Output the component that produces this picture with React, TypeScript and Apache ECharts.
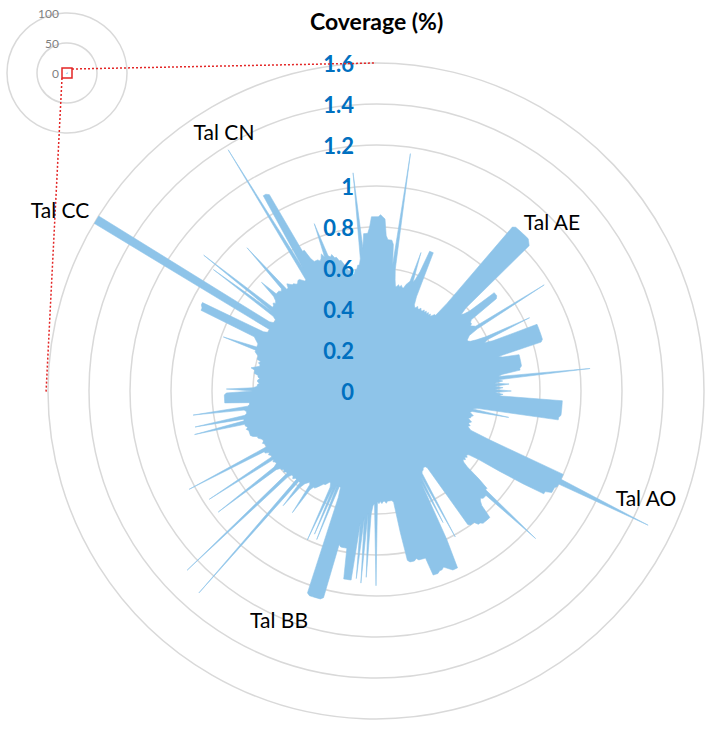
import { useEffect, useRef } from "react";
import * as echarts from "echarts";

// Coverage (%) per window, clockwise from the top, 480 windows
const coverage: number[] = [
  0.85, 0.85, 0.86, 0.85, 0.84, 0.76, 0.74, 0.74,
  0.74, 0.72, 0.62, 1.17, 0.6, 0.55, 0.52, 0.52,
  0.53, 0.52, 0.53, 0.52, 0.52, 0.54, 0.55, 0.56,
  0.71, 0.56, 0.58, 0.62, 0.73, 0.73, 0.73, 0.5,
  0.46, 0.45, 0.45, 0.46, 0.45, 0.45, 0.46, 0.45,
  0.45, 0.46, 0.45, 0.46, 0.45, 0.46, 0.45, 0.46,
  0.45, 0.46, 0.47, 0.47, 0.55, 1.04, 1.05, 1.05,
  1.05, 1.05, 1.05, 1.05, 1.05, 1.04, 1.03, 0.6,
  0.56, 0.57, 0.6, 0.75, 0.75, 0.75, 0.74, 0.58,
  0.57, 0.57, 0.56, 0.57, 0.58, 0.97, 0.58, 0.53,
  0.52, 0.51, 0.51, 0.52, 0.55, 0.6, 0.83, 0.6,
  0.58, 0.62, 0.85, 0.85, 0.85, 0.85, 0.85, 0.85,
  0.85, 0.85, 0.84, 0.62, 0.64, 0.72, 0.72, 0.72,
  0.72, 0.72, 0.72, 0.72, 0.71, 0.71, 0.62, 0.6,
  1.05, 0.6, 0.62, 0.58, 0.65, 0.58, 0.62, 0.58,
  0.66, 0.58, 0.62, 0.6, 0.91, 0.91, 0.91, 0.91,
  0.91, 0.91, 0.91, 0.9, 0.9, 0.5, 0.48, 0.66,
  0.48, 0.47, 0.48, 0.49, 0.48, 0.48, 0.47, 0.48,
  0.49, 0.48, 0.48, 0.49, 0.48, 0.49, 0.5, 0.6,
  1.0, 1.0, 1.0, 1.48, 1.0, 1.0, 0.99, 0.99,
  0.99, 0.96, 0.96, 0.85, 0.72, 0.6, 0.55, 0.54,
  0.55, 0.54, 0.55, 0.54, 0.55, 0.58, 0.66, 0.72,
  0.72, 1.06, 0.74, 0.74, 0.74, 0.73, 0.74, 0.76,
  0.83, 0.83, 0.83, 0.83, 0.83, 0.82, 0.82, 0.8,
  0.8, 0.8, 0.79, 0.45, 0.44, 0.44, 0.44, 0.45,
  0.45, 0.46, 0.81, 0.47, 0.72, 0.5, 0.8, 0.95,
  0.95, 0.95, 0.94, 0.93, 0.92, 0.93, 0.93, 0.94,
  0.94, 0.94, 0.85, 0.85, 0.85, 0.85, 0.84, 0.85,
  0.85, 0.85, 0.84, 0.7, 0.55, 0.54, 0.54, 0.54,
  0.54, 0.55, 0.54, 0.54, 0.55, 0.54, 0.55, 0.54,
  0.95, 0.55, 0.56, 0.6, 0.91, 0.6, 0.94, 0.62,
  0.92, 0.65, 0.93, 0.93, 0.93, 0.93, 0.78, 0.78,
  0.78, 0.78, 0.77, 1.04, 1.05, 1.05, 1.05, 1.05,
  1.05, 1.04, 0.55, 0.5, 0.5, 0.78, 0.5, 0.76,
  0.52, 0.8, 0.52, 0.5, 0.5, 0.51, 0.52, 0.52,
  0.53, 0.54, 0.55, 0.56, 0.56, 0.58, 0.72, 0.56,
  0.55, 0.56, 0.57, 0.6, 0.72, 0.58, 0.58, 1.31,
  0.58, 0.58, 0.59, 0.58, 0.58, 0.6, 1.27, 0.59,
  0.59, 0.6, 0.59, 0.6, 0.6, 0.62, 0.97, 0.62,
  0.6, 0.6, 0.61, 0.6, 0.97, 0.6, 0.6, 0.61,
  0.6, 0.62, 0.62, 1.03, 0.6, 0.6, 0.6, 0.61,
  0.6, 0.6, 0.61, 0.62, 0.62, 0.64, 0.65, 0.65,
  0.65, 0.65, 0.66, 0.65, 0.66, 0.66, 0.91, 0.66,
  0.66, 0.9, 0.65, 0.64, 0.64, 0.65, 0.9, 0.63,
  0.62, 0.62, 0.74, 0.74, 0.74, 0.74, 0.74, 0.73,
  0.6, 0.73, 0.6, 0.58, 0.58, 0.57, 0.58, 0.58,
  0.57, 0.58, 0.58, 0.6, 0.6, 0.6, 0.62, 0.6,
  0.58, 0.58, 0.59, 0.58, 0.6, 0.6, 0.6, 0.61,
  0.62, 0.62, 0.79, 0.62, 0.62, 0.62, 0.63, 0.64,
  0.65, 0.94, 0.94, 0.95, 0.95, 0.62, 0.6, 0.6,
  0.6, 1.6, 1.6, 1.6, 0.62, 0.6, 0.6, 0.6,
  0.62, 0.99, 0.64, 1.07, 0.65, 0.65, 0.66, 0.65,
  0.66, 0.68, 0.77, 0.68, 0.68, 0.68, 0.67, 0.68,
  0.94, 0.66, 0.66, 0.68, 0.67, 0.66, 0.66, 0.65,
  0.65, 0.66, 0.66, 0.65, 0.64, 0.64, 1.38, 0.7,
  1.1, 1.1, 1.09, 0.77, 0.77, 0.72, 0.7, 0.7,
  0.7, 0.69, 0.7, 0.72, 0.7, 0.87, 0.7, 0.69,
  0.7, 0.68, 0.68, 0.66, 0.66, 0.64, 0.62, 0.6,
  0.6, 0.58, 0.58, 0.6, 0.6, 0.62, 0.62, 0.65,
  1.07, 0.7, 0.77, 0.77, 0.77, 0.8, 0.85, 0.85,
];

const mainTicks = { min: 0, max: 1.6, interval: 0.2 };
const insetTicks = { min: 0, max: 100, interval: 50 };

const sampleLabels = ["Tal AE", "Tal AO", "Tal BB", "Tal CC", "Tal CN"];

const FILL = "#8EC4E9";
const RED = "#E32626";
const MAIN_C = [376, 391];
const MAIN_R = 328;
const INSET_C = [67, 73];
const INSET_R = 60;

export default function App() {
  const ref = useRef<HTMLDivElement>(null);
  useEffect(() => {
    if (!ref.current) return;
    const chart = echarts.init(ref.current, undefined, { renderer: "svg" });
    const n = coverage.length;
    const data = coverage.map((v, i) => [v, (i * 360) / n]);
    data.push([coverage[0], 360]);

    const labelPos: Record<string, [number, number]> = {
      "Tal AE": [552, 221],
      "Tal AO": [646, 497],
      "Tal BB": [279, 619],
      "Tal CC": [60, 209],
      "Tal CN": [224, 131],
    };

    const angleAxisBase = {
      type: "value",
      min: 0,
      max: 360,
      startAngle: 90,
      clockwise: true,
      axisLine: { show: false },
      axisTick: { show: false },
      axisLabel: { show: false },
      splitLine: { show: false },
    };

    chart.setOption({
      animation: false,
      backgroundColor: "#ffffff",
      title: {
        text: "Coverage (%)",
        left: 305,
        top: 4,
        textStyle: {
          fontFamily: "Lato",
          fontWeight: "bold",
          fontSize: 23,
          color: "#000000",
        },
      },
      polar: [
        { center: MAIN_C, radius: MAIN_R },
        { center: MAIN_C, radius: MAIN_R },
        { center: INSET_C, radius: INSET_R },
      ],
      angleAxis: [
        { ...angleAxisBase, polarIndex: 0 },
        { ...angleAxisBase, polarIndex: 1 },
        { ...angleAxisBase, polarIndex: 2 },
      ],
      radiusAxis: [
        {
          polarIndex: 0,
          type: "value",
          ...mainTicks,
          z: 10,
          axisLine: { show: false },
          axisTick: { show: false },
          splitLine: { show: false },
          axisLabel: {
            color: "#0070C0",
            fontFamily: "Lato",
            fontWeight: "bold",
            fontSize: 22,
            margin: 22,
          },
        },
        {
          polarIndex: 1,
          type: "value",
          ...mainTicks,
          z: 0,
          axisLine: { show: false },
          axisTick: { show: false },
          axisLabel: { show: false },
          splitLine: { lineStyle: { color: "#D9D9D9", width: 1.5 } },
        },
        {
          polarIndex: 2,
          type: "value",
          ...insetTicks,
          axisLine: { show: false },
          axisTick: { show: false },
          axisLabel: {
            color: "#7F7F7F",
            fontFamily: "Lato",
            fontSize: 12,
            margin: 8,
          },
          splitLine: { lineStyle: { color: "#D9D9D9", width: 1.5 } },
        },
      ],
      series: [
        {
          type: "line",
          coordinateSystem: "polar",
          polarIndex: 0,
          data,
          symbol: "none",
          z: 3,
          lineStyle: { color: FILL, width: 0.6 },
          areaStyle: { color: FILL, opacity: 1 },
        },
        {
          type: "line",
          coordinateSystem: "polar",
          polarIndex: 2,
          data,
          symbol: "none",
          lineStyle: { color: FILL, width: 0.6 },
          areaStyle: { color: FILL, opacity: 1 },
        },
      ],
      graphic: [
        {
          type: "rect",
          z: 100,
          shape: { x: INSET_C[0] - 5, y: INSET_C[1] - 5, width: 10, height: 10 },
          style: { fill: "none", stroke: RED, lineWidth: 1.5 },
        },
        {
          type: "line",
          z: 100,
          shape: { x1: INSET_C[0] + 5, y1: INSET_C[1] - 4, x2: MAIN_C[0], y2: MAIN_C[1] - MAIN_R },
          style: { stroke: RED, lineWidth: 1.5, lineDash: [2, 2] },
        },
        {
          type: "line",
          z: 100,
          shape: { x1: INSET_C[0] - 5, y1: INSET_C[1] + 5, x2: MAIN_C[0] - MAIN_R - 2, y2: MAIN_C[1] + 2 },
          style: { stroke: RED, lineWidth: 1.5, lineDash: [2, 2] },
        },
        ...sampleLabels.map((name) => ({
          type: "text",
          z: 100,
          x: labelPos[name][0],
          y: labelPos[name][1],
          style: {
            text: name,
            fontFamily: "Lato",
            fontSize: 21,
            fill: "#000000",
            align: "center",
            verticalAlign: "middle",
          },
        })),
      ],
    });
    return () => chart.dispose();
  }, []);
  return (
    <div
      ref={ref}
      style={{ position: "absolute", left: 0, top: 0, width: 712, height: 730 }}
    />
  );
}
